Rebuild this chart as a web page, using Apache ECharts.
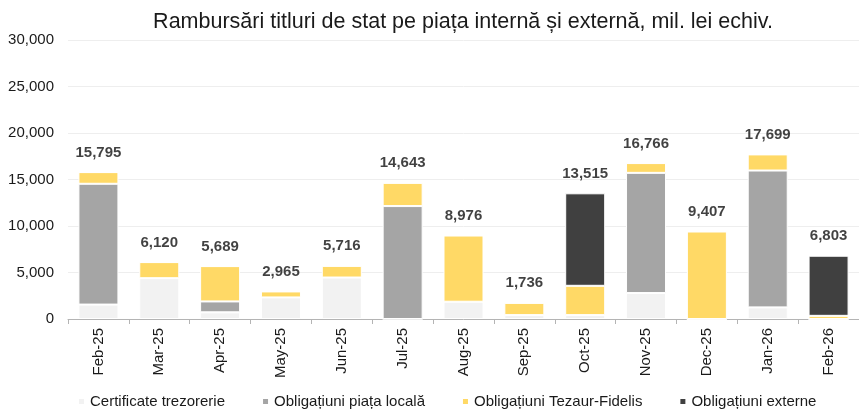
<!DOCTYPE html>
<html>
<head>
<meta charset="utf-8">
<script src="https://cdn.jsdelivr.net/npm/echarts@6/dist/echarts.min.js"></script>
<style>
  html, body { margin: 0; padding: 0; background: #fff; }
  #chart { width: 859px; height: 411px; }
</style>
</head>
<body>
<div id="chart"></div>
<script>
// Months
const months = ['Feb-25', 'Mar-25', 'Apr-25', 'May-25', 'Jun-25', 'Jul-25', 'Aug-25',
                'Sep-25', 'Oct-25', 'Nov-25', 'Dec-25', 'Jan-26', 'Feb-26'];

// Repayments by instrument, mil. lei equiv.
const certificateTrezorerie = [1550, 4390, 720, 2320, 4460, 0, 1857, 420, 420, 2790, 0, 1250, 0];
const obligatiuniLocale     = [12990, 0, 1170, 0, 0, 12143, 0, 0, 0, 12925, 0, 14715, 0];
const obligatiuniTezaur     = [1255, 1730, 3799, 645, 1256, 2500, 7119, 1316, 3150, 1051, 9407, 1734, 340];
const obligatiuniExterne    = [0, 0, 0, 0, 0, 0, 0, 0, 9945, 0, 0, 0, 6463];

// Y axis ticks
const yMin = 0, yMax = 30000, yStep = 5000;

// Monthly totals drawn above each stack
const totals = months.map((_, i) =>
  certificateTrezorerie[i] + obligatiuniLocale[i] + obligatiuniTezaur[i] + obligatiuniExterne[i]);

const fmt = v => Math.round(v).toLocaleString('en-US');
const font = '"Liberation Sans", Arial, sans-serif';

const seriesDefs = [
  { name: 'Certificate trezorerie', data: certificateTrezorerie, color: '#f2f2f2' },
  { name: 'Obligațiuni piața locală', data: obligatiuniLocale, color: '#a5a5a5' },
  { name: 'Obligațiuni Tezaur-Fidelis', data: obligatiuniTezaur, color: '#ffd966' },
  { name: 'Obligațiuni externe', data: obligatiuniExterne, color: '#404040' }
];

const chart = echarts.init(document.getElementById('chart'), null, { renderer: 'canvas' });

chart.setOption({
  animation: false,
  textStyle: { fontFamily: font },
  title: {
    text: 'Rambursări titluri de stat pe piața internă și externă, mil. lei echiv.',
    left: 458,
    textAlign: 'center',
    top: 6,
    textStyle: { fontFamily: font, fontSize: 21.5, fontWeight: 'normal', color: '#1a1a1a' }
  },
  legend: {
    data: seriesDefs.map(s => s.name),
    left: 72,
    top: 389,
    icon: 'rect',
    itemWidth: 7,
    itemHeight: 7,
    itemGap: 36,
    textStyle: { fontFamily: font, fontSize: 15, color: '#1a1a1a' }
  },
  grid: { left: 68, right: 0, top: 40, bottom: 92, containLabel: false },
  xAxis: {
    type: 'category',
    data: months,
    axisLine: { lineStyle: { color: '#b4b4b4', width: 1 } },
    axisTick: { show: true, length: 5, interval: 0, lineStyle: { color: '#b4b4b4' } },
    axisLabel: { rotate: 90, margin: 9, fontSize: 15, color: '#1a1a1a', fontFamily: font, interval: 0 }
  },
  yAxis: {
    type: 'value',
    min: yMin,
    max: yMax,
    interval: yStep,
    axisLine: { show: false },
    axisTick: { show: false },
    splitLine: { lineStyle: { color: '#eeeeee', width: 1 } },
    axisLabel: { margin: 14, fontSize: 15, color: '#1a1a1a', fontFamily: font, formatter: v => fmt(v) }
  },
  series: seriesDefs.map(s => ({
    name: s.name,
    type: 'bar',
    stack: 'total',
    barWidth: 40,
    data: s.data,
    itemStyle: { color: s.color, borderColor: '#ffffff', borderWidth: 1 }
  })).concat([{
    name: 'Total',
    type: 'scatter',
    data: totals,
    symbolSize: 0,
    silent: true,
    label: {
      show: true,
      position: 'top',
      distance: 12,
      fontSize: 15,
      fontWeight: 'bold',
      color: '#111',
      fontFamily: font,
      formatter: p => fmt(p.value)
    }
  }])
});
</script>
</body>
</html>
